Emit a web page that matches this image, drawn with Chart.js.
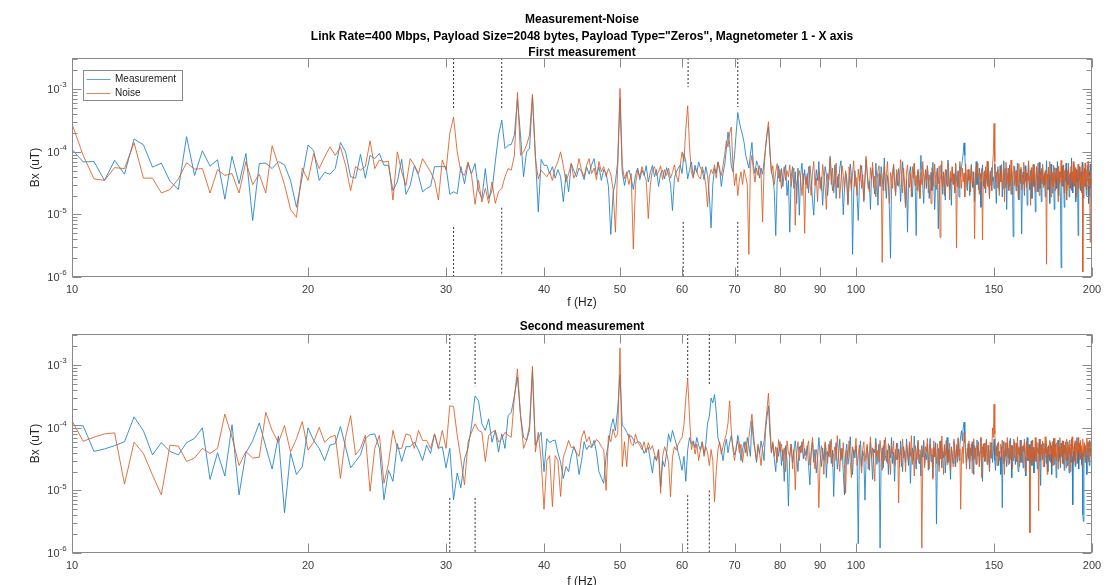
<!DOCTYPE html>
<html>
<head>
<meta charset="utf-8">
<title>Measurement-Noise</title>
<script src="https://cdn.jsdelivr.net/npm/chart.js@4.4.1/dist/chart.umd.min.js"></script>
<style>
  html, body { margin: 0; padding: 0; background: #fff; overflow: hidden; }
  #wrap { position: relative; width: 1108px; height: 585px; overflow: hidden; }
  canvas { position: absolute; left: 0; }
  #top { top: 0; }
  #bottom { top: 312px; }
</style>
</head>
<body>
<div id="wrap">
  <canvas id="top" width="1108" height="312"></canvas>
  <canvas id="bottom" width="1108" height="290"></canvas>
</div>
<script>
// Spectrum bins: 10 Hz upward in steps of 1/3 Hz, up to 200 Hz
const FREQ_START = 10;
const FREQ_STEP = 1 / 3;

// Amplitude spectra, in pT (1e-6 uT), one value per bin
const meas1 = [
  110, 69, 70, 35, 73, 44, 160, 130, 57, 66,
  34, 25, 175, 42, 104, 59, 75, 17.5, 85, 31,
  94, 8, 65, 66, 54, 70, 62, 35, 13, 40,
  128, 106, 35, 47, 44, 54, 141, 100, 40, 38,
  91, 38, 88, 78, 94, 61, 61, 24, 33, 76,
  21, 29, 60, 42, 23, 26, 28, 58, 58, 58,
  58, 21, 23, 21.5, 58, 31, 65, 45, 65, 24,
  18, 54, 18, 24, 69, 185, 320, 113, 128, 131,
  185, 700, 185, 40, 100, 113, 750, 88, 11, 76,
  61, 61, 45, 58, 38, 52, 40, 16, 44, 23,
  65, 50, 40, 55, 48, 36, 57, 44, 62, 78,
  43, 58, 35, 52, 46, 28, 4.8, 22, 33, 70,
  710, 48, 29, 44, 51, 38, 25, 43, 55, 36,
  51, 42, 60, 33, 47, 61, 40, 52, 28, 45,
  51, 37, 56, 44, 30, 11.6, 38, 48, 55, 61,
  45, 94, 70, 37, 52, 69, 40, 61, 47, 69,
  55, 51, 36, 58, 42, 20, 6.1, 30, 54, 46,
  69, 55, 28, 45, 62, 110, 208, 130, 60, 48,
  90, 200, 425, 300, 230, 185, 140, 88, 70, 55,
  90, 141, 60, 45, 72, 61, 38, 55, 44, 70,
  110, 190, 250, 95, 50, 38, 24, 4.6, 33, 60,
  33, 54, 28, 46, 62, 20, 35, 5.2, 40, 58,
  26, 48, 15, 55, 9.7, 42, 66, 30, 52,
  30, 45, 22, 60, 38, 17, 9.7, 28, 52, 35,
  70, 26, 40, 14, 33, 58, 44, 20, 36, 85,
  48, 24, 31, 62, 18, 40, 27, 55, 72, 33,
  9.9, 25, 46, 38, 15, 30, 64, 42, 2.3, 22,
  50, 35, 19, 8, 28, 44, 60, 32, 16, 38,
  75, 47, 26, 34, 12, 40, 55, 30, 21, 66,
  36, 14, 45, 28, 58, 39, 24, 80, 33, 18,
  42, 30, 11, 2.0, 26, 48, 62, 35, 20, 44,
  29, 54, 38, 16, 33, 70, 41, 25, 13, 36,
  5.2, 28, 46, 58, 31, 19, 40, 65, 27, 4.6,
  34, 50, 23, 38, 88, 45, 29, 15, 37, 52,
  26, 60, 40, 18, 32, 47, 24, 68, 35, 12,
  30, 44, 55, 5.9, 27, 39, 62, 33, 21, 48,
  36, 17, 52, 29, 74, 42, 25, 38, 14, 57,
  31, 45, 22, 66, 37, 28, 49, 19, 60, 40,
  58, 72, 95, 139, 88, 46, 30, 24, 52, 36,
  20, 42, 63, 33, 27, 48, 16, 38, 70, 30,
  45, 25, 55, 34, 13, 40, 62, 28, 36, 50,
  22, 44, 31, 68, 38, 18, 47, 29, 56, 34,
  40, 26, 64, 35, 15, 43, 52, 30, 24, 60,
  37, 48, 19, 33, 72, 41, 27, 55, 12, 38,
  46, 28, 62, 36, 21, 50, 32, 4.4, 30, 58,
  42, 24, 35, 66, 29, 17, 44, 53, 31, 4.9,
  27, 48, 38, 20, 60, 34, 45, 14, 39, 70,
  32, 25, 51, 40, 18, 36, 63, 28, 44, 11,
  30, 55, 42, 23, 37, 68, 26, 48, 16, 34,
  58, 40, 29, 46, 19, 33, 72, 37, 25, 52,
  43, 15, 30, 64, 35, 22, 47, 38, 12, 56,
  31, 45, 26, 70, 39, 20, 48, 33, 17, 1.4,
  36, 60, 28, 42, 13, 50, 34, 66, 24, 41,
  30, 55, 19, 38, 47, 26, 80, 35, 22, 44,
  62, 29, 40, 16, 52, 33, 45, 4.6, 27, 58,
  36, 24, 48, 30, 68, 42, 18, 37, 55, 28,
  44, 20, 33, 60, 39, 15, 50, 31, 64, 26,
  40, 45
];

const noise1 = [
  280, 88, 37, 35, 56, 54, 140, 38, 38, 22,
  25, 37, 67, 53, 54, 22, 52, 42, 45, 22,
  70, 30, 44, 22, 125, 61, 30, 12, 9, 55,
  35, 94, 54, 83, 120, 88, 120, 61, 24, 58,
  51, 58, 150, 54, 74, 69, 71, 17, 100, 48,
  29, 78, 61, 45, 78, 61, 48, 35, 17, 74,
  51, 197, 360, 100, 48, 42, 69, 42, 14.5, 35,
  15.8, 26, 15, 33, 15, 23, 26, 40, 54, 51,
  88, 890, 88, 100, 128, 185, 830, 78, 37, 51,
  45, 40, 48, 35, 55, 70, 100, 60, 33, 45,
  65, 38, 48, 78, 50, 40, 62, 78, 45, 55,
  36, 70, 48, 58, 40, 54, 44, 25, 5.2, 60,
  1030, 60, 37, 48, 30, 45, 2.8, 30, 51, 40,
  58, 44, 35, 8.6, 30, 52, 58, 42, 48, 60,
  36, 52, 42, 55, 38, 47, 62, 42, 33, 60,
  100, 70, 240, 545, 120, 48, 38, 55, 48, 40,
  37, 58, 45, 30, 13.2, 40, 52, 45, 62, 38,
  69, 50, 42, 60, 90, 150, 120, 200, 250, 60,
  29, 45, 20, 35, 48, 30, 52, 40, 30, 2.3,
  60, 88, 50, 33, 55, 42, 60, 45, 7.6, 50,
  120, 200, 302, 110, 45, 60, 30, 48, 65, 38,
  52, 26, 44, 58, 35, 50, 40, 62, 28, 45,
  55, 6.7, 32, 40, 50, 36, 20, 45, 5,
  40, 26, 58, 33, 20, 47, 70, 29, 38, 16,
  52, 35, 24, 63, 41, 28, 12, 45, 36, 78,
  30, 55, 22, 38, 66, 27, 44, 18, 34, 60,
  42, 25, 50, 31, 14, 58, 37, 24, 46, 72,
  28, 39, 20, 53, 34, 62, 26, 43, 17, 36,
  85, 48, 30, 23, 56, 38, 68, 27, 41, 19,
  33, 50, 60, 29, 44, 1.7, 36, 58, 24, 40,
  70, 32, 15, 47, 38, 26, 64, 35, 21, 52,
  44, 28, 36, 75, 40, 22, 55, 31, 13, 48,
  62, 34, 27, 45, 19, 58, 38, 66, 29, 42,
  24, 53, 35, 18, 47, 30, 70, 39, 26, 50,
  36, 60, 22, 43, 33, 15, 56, 40, 28, 64,
  38, 25, 48, 31, 59, 4.3, 34, 72, 27, 45,
  20, 52, 37, 28, 66, 41, 17, 49, 33, 58,
  30, 44, 24, 62, 2.9, 36, 50, 27, 70, 39,
  26, 55, 33, 46, 19, 64, 38, 29, 52, 35,
  42, 23, 60, 31, 48, 37, 4.1, 28, 57, 40,
  66, 30, 21, 45, 36, 54, 3.9, 33, 47, 26,
  58, 38, 71, 28, 43, 18, 50, 35, 24, 62,
  90, 284, 70, 34, 48, 27, 58, 40, 20, 45,
  33, 63, 38, 26, 52, 16, 44, 68, 30, 37,
  55, 24, 42, 32, 74, 39, 21, 47, 60, 29,
  36, 50, 28, 44, 18, 65, 34, 40, 57, 25,
  43, 31, 68, 22, 39, 53, 27, 46, 35, 72,
  30, 41, 14, 56, 37, 26, 62, 33, 48, 23,
  40, 58, 29, 66, 35, 20, 45, 38, 54, 31,
  64, 27, 42, 36, 50, 30, 1.6, 44, 25, 57,
  38, 70, 32, 19, 48, 40, 28, 61, 34, 46,
  24, 55, 37, 43, 16, 59, 31, 48, 39, 73,
  29, 46, 35, 62, 22, 41, 54, 30, 17, 50,
  36, 66, 27, 44, 39, 58, 24, 48, 33, 70,
  28, 42, 56, 31, 19, 47, 38, 64, 26, 45,
  54, 30, 41, 22, 60, 1.2, 35, 49, 28, 66,
  38, 25, 52, 34, 70, 29, 44, 20, 3.6, 48,
  33, 42
];

const meas2 = [
  110, 108, 42, 46, 52, 60, 150, 90, 37, 58,
  42, 37, 58, 68, 100, 15, 40, 17, 112, 8.5,
  40, 62, 120, 50, 22, 74, 4.4, 40, 18, 24,
  100, 63, 47, 30, 53, 56, 105, 50, 23, 29,
  37, 67, 78, 80, 47, 7.1, 21, 14, 56, 29,
  50, 50, 59, 44, 30, 53, 39, 80, 47, 50,
  23, 47, 7.1, 19, 11, 32, 47, 109, 324, 270,
  116, 91, 139, 59, 91, 41, 80, 47, 157, 177,
  324, 650, 157, 71, 63, 91, 800, 53, 67, 85,
  20, 67, 58, 62, 64, 40, 28, 15.5, 24, 20,
  35, 50, 38, 18, 30, 60, 45, 52, 48, 63,
  40, 20, 16, 13, 35, 55, 100, 140, 90, 200,
  700, 110, 100, 85, 71, 75, 65, 56, 60, 59,
  50, 39, 45, 49, 30, 19, 35, 30, 45, 11.4,
  30, 24, 40, 80, 60, 91, 70, 55, 40, 30,
  21, 35, 14, 45, 70, 55, 62, 48, 70, 52,
  44, 60, 38, 55, 120, 150, 300, 250, 340, 180,
  70, 55, 45, 30, 48, 66, 40, 58, 75, 50,
  37, 44, 76, 55, 30, 45, 60, 40, 70, 52,
  35, 130, 60, 45, 28, 50, 38, 62, 45, 30,
  90, 150, 225, 80, 40, 55, 32, 20, 48, 35,
  60, 25, 45, 14, 52, 30, 5.6, 38, 55, 28,
  44, 62, 35, 20, 50, 40, 60, 32, 47,
  36, 52, 25, 12.3, 40, 60, 28, 45, 19, 33,
  70, 38, 24, 48, 30, 56, 16, 42, 35, 62,
  27, 44, 8, 38, 58, 22, 34, 66, 30, 47,
  20, 8.5, 40, 55, 26, 36, 72, 31, 18, 45,
  33, 52, 28, 1.4, 39, 62, 24, 43, 35, 7,
  30, 50, 37, 21, 58, 34, 15, 46, 40, 68,
  26, 38, 55, 1.2, 32, 48, 23, 64, 36, 29,
  44, 18, 52, 33, 70, 27, 41, 14, 37, 57,
  31, 46, 24, 62, 35, 20, 50, 39, 28, 66,
  42, 25, 54, 13, 36, 48, 30, 74, 33, 22,
  45, 59, 27, 38, 17, 52, 34, 63, 26, 40,
  31, 55, 21, 44, 68, 29, 37, 16, 49, 35,
  58, 2.9, 30, 47, 25, 62, 39, 23, 42, 33,
  54, 19, 36, 70, 28, 45, 32, 15, 50, 38,
  27, 60, 41, 24, 48, 35, 66, 30, 52, 75,
  90, 62, 100, 123, 80, 44, 28, 38, 56, 32,
  22, 47, 36, 60, 30, 18, 52, 40, 27, 64,
  35, 48, 24, 42, 70, 31, 14, 55, 38, 29,
  46, 62, 26, 37, 53, 20, 44, 33, 58, 28,
  40, 66, 30, 21, 48, 36, 57, 25, 42, 34,
  18, 50, 5.3, 38, 61, 29, 44, 35, 24, 56,
  33, 47, 27, 68, 39, 16, 52, 30, 43, 60,
  26, 38, 55, 31, 20, 47, 36, 64, 28, 42,
  50, 23, 39, 58, 33, 17, 45, 70, 30, 37,
  54, 28, 41, 62, 25, 35, 49, 19, 44, 32,
  60, 36, 22, 47, 38, 66, 29, 12, 43, 55,
  31, 40, 57, 24, 35, 63, 27, 46, 20, 52,
  38, 30, 58, 42, 18, 49, 34, 68, 26, 40,
  55, 16, 37, 45, 64, 29, 50, 33, 23, 57,
  36, 44, 27, 62, 21, 39, 53, 30, 47, 25,
  60, 34, 19, 48, 41, 28, 66, 35, 5.9, 43,
  30, 56, 24, 38, 51, 70, 27, 45, 22, 37,
  58, 32, 46, 26, 40, 4.1, 3.2, 34, 55, 28,
  49, 36, 18, 60, 33, 44, 25, 63, 38, 47,
  24, 40
];

const noise2 = [
  130, 61, 71, 80, 83, 12.6, 59, 39, 17.6, 8.5,
  53, 51, 29, 33, 47, 39, 47, 166, 71, 25,
  42, 33, 34, 177, 91, 58, 109, 41, 67, 126,
  44, 59, 102, 59, 71, 76, 15.6, 71, 157, 37,
  47, 76, 9.7, 47, 76, 13, 27, 91, 47, 47,
  80, 76, 47, 91, 63, 63, 47, 80, 47, 91,
  47, 225, 220, 76, 32, 12.3, 59, 85, 116, 91,
  85, 29, 76, 85, 91, 59, 67, 85, 76, 71,
  305, 875, 157, 47, 63, 109, 960, 41, 85, 30,
  5, 30, 36, 5.5, 36, 30, 8, 34, 45, 63,
  48, 50, 40, 35, 70, 90, 60, 72, 50, 55,
  65, 60, 50, 45, 10, 75, 60, 96, 70, 80,
  1900, 24, 60, 24, 80, 56, 52, 80, 60, 52,
  45, 60, 40, 58, 45, 52, 38, 30, 45, 9,
  35, 50, 40, 28, 7.9, 34, 50, 44, 55, 63,
  70, 110, 300, 600, 150, 45, 60, 38, 55, 30,
  45, 60, 35, 50, 40, 25, 45, 30, 6.6, 20,
  45, 60, 38, 50, 65, 80, 120, 270, 90, 45,
  30, 50, 62, 40, 55, 28, 45, 60, 35, 70,
  110, 166, 80, 45, 30, 55, 40, 25, 48, 60,
  110, 200, 357, 120, 40, 60, 35, 50, 28, 65,
  42, 55, 30, 48, 20, 62, 40, 35, 55, 22,
  45, 10.2, 38, 60, 30, 52, 40, 66, 35,
  30, 48, 62, 25, 40, 70, 33, 22, 45, 36,
  5.3, 28, 52, 38, 18, 60, 42, 27, 55, 34,
  66, 24, 40, 50, 30, 75, 36, 20, 47, 32,
  58, 26, 9, 44, 35, 62, 28, 16, 50, 38,
  42, 68, 25, 36, 53, 31, 19, 46, 60, 29,
  40, 55, 22, 37, 72, 33, 48, 26, 14, 58,
  35, 44, 28, 63, 38, 21, 52, 30, 70, 41,
  27, 56, 34, 18, 49, 39, 62, 25, 45, 31,
  57, 6.3, 36, 48, 24, 66, 33, 42, 20, 54,
  38, 29, 60, 35, 75, 26, 44, 17, 52, 40,
  31, 64, 28, 45, 37, 1.2, 33, 58, 23, 50,
  41, 68, 30, 22, 55, 36, 47, 15, 62, 34,
  45, 27, 56, 38, 20, 60, 32, 74, 39, 18,
  52, 35, 63, 26, 44, 30, 57, 21, 48, 37,
  24, 66, 40, 31, 54, 28, 70, 36, 46, 5,
  33, 50, 27, 84, 58, 38, 22, 47, 35, 62,
  29, 44, 55, 19, 40, 67, 32, 48, 26, 53,
  36, 60, 24, 42, 70, 16, 50, 34, 57, 30,
  45, 66, 28, 52, 37, 21, 59, 33, 44, 100,
  70, 239, 80, 36, 52, 25, 47, 60, 30, 40,
  55, 34, 64, 27, 43, 18, 58, 37, 49, 70,
  26, 45, 62, 31, 53, 36, 22, 48, 66, 33,
  40, 57, 29, 72, 38, 50, 24, 44, 61, 32,
  28, 52, 42, 66, 20, 46, 60, 34, 55, 30,
  48, 2.1, 38, 56, 31, 64, 27, 45, 36, 70,
  29, 50, 41, 58, 4.7, 44, 66, 30, 53, 38,
  62, 24, 47, 35, 72, 39, 55, 18, 50, 33,
  44, 63, 28, 52, 37, 60, 25, 41, 68, 34,
  49, 30, 58, 42, 22, 56, 38, 70, 27, 46,
  35, 62, 44, 26, 53, 38, 60, 23, 66, 41,
  30, 52, 39, 64, 20, 55, 36, 72, 45, 28,
  50, 40, 62, 26, 47, 58, 33, 70, 43, 54,
  31, 63, 38, 52, 24, 66, 45, 35, 58, 40,
  53, 29, 68, 44, 57, 30, 62, 46, 36, 58,
  42, 33
];

// Axis ticks
const xTickValues = [10, 20, 30, 40, 50, 60, 70, 80, 90, 100, 150, 200];
const yDecades = [-6, -5, -4, -3];

// Dashed reference lines: [frequency Hz, end of the upper dash in uT] and
// [frequency Hz, start of the lower dash in uT]
const marks1Upper = [[30.67, 5.0e-4], [35.33, 5.0e-4], [61.07, 1.08e-3], [70.67, 5.2e-4]];
const marks1Lower = [[30.67, 6.3e-6], [35.33, 1.28e-5], [60.2, 7.6e-6], [70.67, 7.6e-6]];
const marks2Upper = [[30.33, 2.8e-4], [32.67, 4.6e-4], [61.0, 6.0e-4], [65.0, 4.7e-4]];
const marks2Lower = [[30.33, 7.6e-6], [32.67, 7.6e-6], [61.0, 8.4e-6], [65.0, 1.0e-5]];

// Text
const mainTitle = 'Measurement-Noise';
const subTitle = 'Link Rate=400 Mbps, Payload Size=2048 bytes, Payload Type="Zeros", Magnetometer 1 - X axis';
const panelTitles = ['First measurement', 'Second measurement'];
const seriesNames = ['Measurement', 'Noise'];

// ---- styling ----
const Y_MIN = 1e-6;
const Y_MAX = Math.pow(10, -2.5);
const BLUE = '#1a7fc6';
const ORANGE = '#db5c22';
const LEGEND_COLORS = ['#5aa6dc', '#e8875c'];
const AXIS_GRAY = '#8a8a8a';
const LABEL_GRAY = '#3c3c3c';
const FONT = '"Liberation Sans", Arial, Helvetica, sans-serif';

function toPoints(values) {
  return values.map((v, i) => ({ x: FREQ_START + i * FREQ_STEP, y: v * 1e-6 }));
}

function markPoints(upper, lower) {
  const pts = [];
  upper.forEach(([f, yEnd]) => { pts.push({ x: f, y: Y_MAX }, { x: f, y: yEnd }, { x: f, y: null }); });
  lower.forEach(([f, yStart]) => { pts.push({ x: f, y: yStart }, { x: f, y: Y_MIN }, { x: f, y: null }); });
  return pts;
}

// Box, inward tick marks and 10^n labels in the MATLAB manner
const axesFrame = {
  id: 'axesFrame',
  afterDraw(chart) {
    const { ctx, chartArea: a } = chart;
    const xs = chart.scales.x, ys = chart.scales.y;
    const L = Math.round(a.left) + 0.5, R = Math.round(a.right) - 0.5;
    const T = Math.round(a.top) + 0.5, B = Math.round(a.bottom) - 0.5;
    ctx.save();
    ctx.strokeStyle = AXIS_GRAY;
    ctx.lineWidth = 1;
    ctx.strokeRect(L, T, R - L, B - T);
    ctx.beginPath();
    xTickValues.forEach(v => {
      const px = Math.round(xs.getPixelForValue(v)) + 0.5;
      ctx.moveTo(px, B); ctx.lineTo(px, B - 9);
      ctx.moveTo(px, T); ctx.lineTo(px, T + 9);
    });
    yDecades.forEach(k => {
      for (let m = 1; m <= 9; m++) {
        const v = m * Math.pow(10, k);
        if (v > Y_MAX * 1.0001) break;
        const len = m === 1 ? 9 : 5;
        const py = Math.round(ys.getPixelForValue(v)) + 0.5;
        ctx.moveTo(L, py); ctx.lineTo(L + len, py);
        ctx.moveTo(R, py); ctx.lineTo(R - len, py);
      }
    });
    ctx.stroke();
    ctx.fillStyle = LABEL_GRAY;
    yDecades.forEach(k => {
      const py = ys.getPixelForValue(Math.pow(10, k));
      ctx.font = '11px ' + FONT;
      ctx.textAlign = 'right';
      ctx.textBaseline = 'middle';
      ctx.fillText('10', a.left - 12.5, py + 1);
      ctx.font = '8px ' + FONT;
      ctx.textAlign = 'left';
      ctx.fillText(String(k), a.left - 12.5, py - 4);
    });
    ctx.restore();
  }
};

// Bold headings centred over the plot area
const headings = {
  id: 'headings',
  afterDraw(chart, args, opts) {
    const { ctx, chartArea: a } = chart;
    const cx = (a.left + a.right) / 2;
    ctx.save();
    ctx.fillStyle = '#000';
    ctx.font = 'bold 12px ' + FONT;
    ctx.textAlign = 'center';
    ctx.textBaseline = 'alphabetic';
    (opts.lines || []).forEach(([text, baseY]) => ctx.fillText(text, cx, baseY));
    ctx.restore();
  }
};

// Boxed legend in the upper-left corner of the plot area
const boxLegend = {
  id: 'boxLegend',
  afterDraw(chart, args, opts) {
    if (!opts.show) return;
    const { ctx, chartArea: a } = chart;
    const x0 = Math.round(a.left) + 11.5, y0 = Math.round(a.top) + 12.5, w = 99, h = 30;
    ctx.save();
    ctx.fillStyle = '#fff';
    ctx.fillRect(x0, y0, w, h);
    ctx.strokeStyle = AXIS_GRAY;
    ctx.lineWidth = 1;
    ctx.strokeRect(x0, y0, w, h);
    seriesNames.forEach((name, i) => {
      const ly = y0 + 9 + i * 14;
      ctx.strokeStyle = LEGEND_COLORS[i];
      ctx.lineWidth = 1;
      ctx.beginPath();
      ctx.moveTo(x0 + 3, ly); ctx.lineTo(x0 + 27, ly);
      ctx.stroke();
      ctx.fillStyle = '#1a1a1a';
      ctx.font = '10px ' + FONT;
      ctx.textAlign = 'left';
      ctx.textBaseline = 'middle';
      ctx.fillText(name, x0 + 31.5, ly);
    });
    ctx.restore();
  }
};

function buildChart(canvasId, meas, noise, upper, lower, cfg) {
  return new Chart(document.getElementById(canvasId), {
    type: 'line',
    data: {
      datasets: [
        { label: seriesNames[0], data: toPoints(meas), borderColor: BLUE, borderWidth: 0.85,
          pointRadius: 0, tension: 0, order: 2 },
        { label: seriesNames[1], data: toPoints(noise), borderColor: ORANGE, borderWidth: 0.85,
          pointRadius: 0, tension: 0, order: 1 },
        { label: 'reference lines', data: markPoints(upper, lower), borderColor: '#333', borderWidth: 1,
          borderDash: [2, 2], pointRadius: 0, spanGaps: false, order: 0 }
      ]
    },
    options: {
      responsive: false,
      animation: false,
      devicePixelRatio: 1,
      events: [],
      layout: { padding: { top: cfg.padTop, right: 16, bottom: 0, left: 0 } },
      scales: {
        x: {
          type: 'logarithmic', min: 10, max: 200,
          afterBuildTicks: s => { s.ticks = xTickValues.map(v => ({ value: v })); },
          afterFit: s => { s.height = cfg.xHeight; },
          ticks: { autoSkip: false, maxRotation: 0, minRotation: 0, padding: 6,
                   color: LABEL_GRAY, font: { family: FONT, size: 11 },
                   callback: v => String(v) },
          grid: { display: false, drawTicks: false },
          border: { display: false },
          title: { display: true, text: 'f (Hz)', color: '#262626',
                   font: { family: FONT, size: 12 }, padding: { top: 0, bottom: cfg.xTitlePad } }
        },
        y: {
          type: 'logarithmic', min: Y_MIN, max: Y_MAX,
          afterFit: s => { s.width = 72; },
          ticks: { display: false },
          grid: { display: false, drawTicks: false },
          border: { display: false },
          title: { display: true, text: 'Bx (uT)', color: '#262626',
                   font: { family: FONT, size: 12 }, padding: { top: 28, bottom: 0 } }
        }
      },
      plugins: {
        legend: { display: false },
        tooltip: { enabled: false },
        headings: { lines: cfg.headings },
        boxLegend: { show: cfg.legend }
      }
    },
    plugins: [axesFrame, headings, boxLegend]
  });
}

buildChart('top', meas1, noise1, marks1Upper, marks1Lower, {
  padTop: 58, xHeight: 35, xTitlePad: 2, legend: true,
  headings: [[mainTitle, 23], [subTitle, 39.5], [panelTitles[0], 56]]
});

buildChart('bottom', meas2, noise2, marks2Upper, marks2Lower, {
  padTop: 22, xHeight: 49, xTitlePad: 13, legend: false,
  headings: [[panelTitles[1], 18]]
});
</script>
</body>
</html>
